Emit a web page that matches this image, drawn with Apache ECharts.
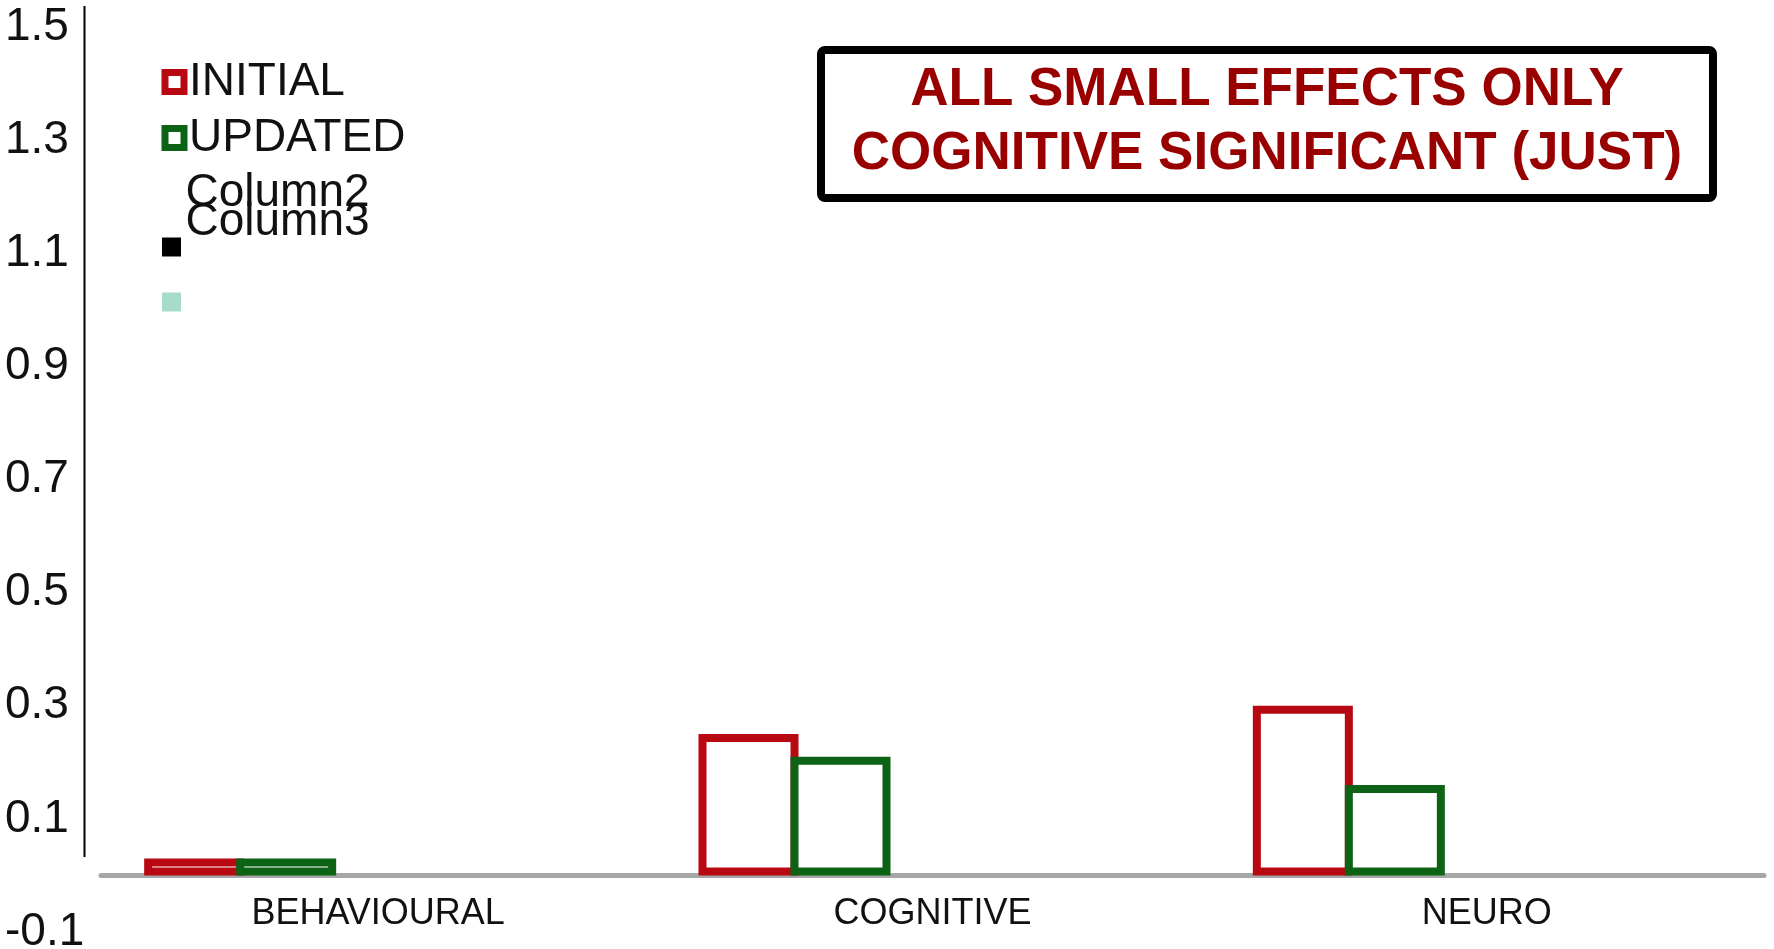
<!DOCTYPE html>
<html>
<head>
<meta charset="utf-8">
<title>Effect sizes: initial vs updated</title>
<script src="https://cdn.jsdelivr.net/npm/echarts@6/dist/echarts.min.js"></script>
<style>
  html, body { margin: 0; padding: 0; background: #fff; }
  #chart { width: 1774px; height: 949px; }
</style>
</head>
<body>
<div id="chart"></div>
<script>
// Categories and effect values per domain
const categories = ['BEHAVIOURAL', 'COGNITIVE', 'NEURO'];
const initialValues = [0.03, 0.25, 0.30];
const updatedValues = [0.03, 0.21, 0.16];
// Empty placeholder columns kept from the source sheet
const column2Values = [null, null, null];
const column3Values = [null, null, null];
const column4Values = [null, null, null];

// Value axis range and step
const yMin = -0.1;
const yMax = 1.5;
const yStep = 0.2;

const noteLines = ['ALL SMALL EFFECTS ONLY', 'COGNITIVE SIGNIFICANT (JUST)'];

const FONT = '"Liberation Sans", Arial, sans-serif';
const RED = '#b80812';
const GREEN = '#0d6315';
const TEAL = '#a7dcc8';

const chart = echarts.init(document.getElementById('chart'));

// Outlined columns; neighbouring columns share their touching border
function barSeries(name, data, border) {
  return {
    name: name,
    type: 'bar',
    data: data,
    barWidth: 100,
    barGap: '-8%',
    itemStyle: {
      color: '#ffffff',
      borderColor: border,
      borderWidth: 8
    }
  };
}

const legendBase = {
  orient: 'horizontal',
  padding: 0,
  itemWidth: 19,
  itemHeight: 19,
  itemGap: 0,
  selectedMode: false,
  textStyle: { fontFamily: FONT, fontSize: 46, lineHeight: 46, color: '#111' }
};

function legendEntry(item, left, top, extra) {
  return Object.assign({}, legendBase, { data: [item], left: left, top: top }, extra || {});
}

const iconOnly = {
  formatter: function () { return ''; },
  textStyle: { fontFamily: FONT, fontSize: 12, lineHeight: 19, color: '#111' }
};

chart.setOption({
  animation: false,
  backgroundColor: '#ffffff',
  grid: {
    left: 101, right: 10, top: 27, bottom: 17,
    containLabel: false,
    // let the value labels run to the canvas edge without shrinking the plot
    outerBounds: { left: -200, right: -200, top: -200, bottom: -200 }
  },
  xAxis: {
    type: 'category',
    data: categories,
    axisLine: { onZero: true, lineStyle: { color: '#a6a6a6', width: 5 } },
    axisTick: { show: false },
    // category names sit just under the zero line, above the plot's bottom edge
    axisLabel: {
      inside: true,
      margin: 0,
      fontFamily: FONT,
      fontSize: 36,
      lineHeight: 36,
      color: '#111'
    }
  },
  yAxis: {
    type: 'value',
    min: yMin,
    max: yMax,
    interval: yStep,
    axisLine: { show: false },
    axisTick: { show: false },
    splitLine: { show: false },
    axisLabel: {
      fontFamily: FONT,
      fontSize: 46,
      color: '#111',
      align: 'left',
      margin: 96,
      padding: [6, 0, 0, 0],
      formatter: function (v) { return v.toFixed(1); }
    }
  },
  legend: [
    legendEntry({ name: 'INITIAL', icon: 'rect', itemStyle: { color: '#fff', borderColor: RED, borderWidth: 7 } }, 161.5, 59),
    legendEntry({ name: 'UPDATED', icon: 'rect', itemStyle: { color: '#fff', borderColor: GREEN, borderWidth: 7 } }, 161.5, 115),
    legendEntry({ name: 'Column2', icon: 'none' }, 161.5, 170),
    legendEntry({ name: 'Column3', icon: 'none' }, 161.5, 199),
    legendEntry({ name: 'Column3', icon: 'rect', itemStyle: { color: '#000', borderWidth: 0 } }, 162, 237.5, iconOnly),
    legendEntry({ name: 'Column4', icon: 'rect', itemStyle: { color: TEAL, borderWidth: 0 } }, 162, 292.5, iconOnly)
  ],
  graphic: [
    {
      type: 'line',
      silent: true,
      shape: { x1: 84.5, y1: 6, x2: 84.5, y2: 857 },
      style: { stroke: '#000', lineWidth: 2 }
    },
    {
      type: 'rect',
      silent: true,
      shape: { x: 821, y: 50, width: 892, height: 148, r: 4 },
      style: { fill: '#ffffff', stroke: '#000', lineWidth: 8 }
    },
    {
      type: 'text',
      silent: true,
      x: 1267,
      y: 122.5,
      style: {
        text: noteLines.join('\n'),
        font: 'bold 53px ' + FONT,
        fill: '#990000',
        align: 'center',
        verticalAlign: 'middle',
        lineHeight: 64
      }
    }
  ],
  series: [
    barSeries('INITIAL', initialValues, RED),
    barSeries('UPDATED', updatedValues, GREEN),
    barSeries('Column2', column2Values, '#ffffff'),
    barSeries('Column3', column3Values, '#000000'),
    barSeries('Column4', column4Values, TEAL)
  ]
});
</script>
</body>
</html>
